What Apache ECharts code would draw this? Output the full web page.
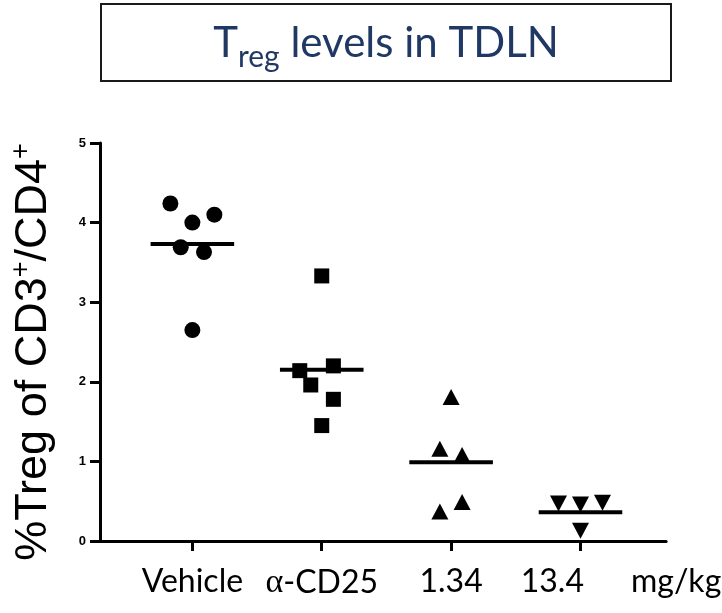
<!DOCTYPE html>
<html>
<head>
<meta charset="utf-8">
<script src="https://cdn.jsdelivr.net/npm/echarts@6/dist/echarts.min.js"></script>
<style>
  html, body { margin: 0; padding: 0; background: #fff; }
  #main { width: 722px; height: 613px; }
</style>
</head>
<body>
<div id="main"></div>
<script>
// groups on the x axis (positions 1..4)
var groupLabels = ['Vehicle', 'α-CD25', '1.34', '13.4'];
var doseUnit = 'mg/kg';
var yTicks = [0, 1, 2, 3, 4, 5];

// individual animals, % Treg of CD3+/CD4+
var vehicleVals = [4.24, 4.00, 4.10, 3.69, 3.63, 2.65];
var vehicleJitter = [-0.17, 0, 0.17, -0.09, 0.09, 0];
var cd25Vals = [3.33, 2.14, 2.20, 1.96, 1.78, 1.45];
var cd25Jitter = [0, -0.17, 0.09, -0.085, 0.09, 0];
var lowDoseVals = [1.81, 1.16, 1.08, 0.49, 0.37];
var lowDoseJitter = [0, -0.087, 0.085, 0.085, -0.087];
var highDoseVals = [0.47, 0.46, 0.48, 0.13];
var highDoseJitter = [-0.17, 0, 0.17, 0];

// group means (horizontal bars)
var groupMeans = [3.73, 2.15, 0.99, 0.36];

function pts(pos, vals, jit) {
    var out = [];
    for (var i = 0; i < vals.length; i++) {
        out.push([pos + jit[i], vals[i]]);
    }
    return out;
}

var myChart = echarts.init(document.getElementById('main'));

var dotStyle = { color: '#000', opacity: 1 };

var option = {
    animation: false,
    graphic: [
        {
            type: 'rect',
            shape: { x: 101, y: 4, width: 570, height: 77 },
            style: { fill: 'none', stroke: '#1a1a1a', lineWidth: 2 }
        },
        {
            type: 'text',
            x: 386,
            y: 43,
            style: {
                text: '{t|T}{s|reg}{t| levels in TDLN}',
                align: 'center',
                verticalAlign: 'middle',
                rich: {
                    t: { fontFamily: 'Lato', fontSize: 42, lineHeight: 50, fill: '#203864' },
                    s: { fontFamily: 'Lato', fontSize: 30, lineHeight: 30, padding: [28, 0, 0, 0], fill: '#203864' }
                }
            }
        }
    ],
    grid: {
        left: 85,
        right: 55,
        top: 143,
        bottom: 72
    },
    xAxis: {
        type: 'value',
        min: 0.286,
        max: 4.662,
        splitLine: { show: false },
        axisLine: { show: true, lineStyle: { color: '#000', width: 3 } },
        axisTick: {
            show: true,
            customValues: [1, 2, 3, 4],
            length: 10,
            lineStyle: { color: '#000', width: 3 }
        },
        axisLabel: {
            customValues: [1, 2, 3, 4],
            margin: 25,
            formatter: function (v) {
                var i = Math.round(v) - 1;
                var lab = groupLabels[i];
                if (i === groupLabels.length - 1) {
                    return '{a|' + lab + '}{u|' + doseUnit + '}';
                }
                if (lab.charAt(0) === 'α') {
                    return '{g|α}' + lab.slice(1);
                }
                return lab;
            },
            fontFamily: 'Lato',
            fontSize: 32,
            color: '#000',
            rich: {
                a: { fontFamily: 'Lato', fontSize: 32, color: '#000', padding: [0, 0, 0, 81] },
                u: { fontFamily: 'Lato', fontSize: 32, color: '#000', padding: [0, 0, 0, 47] },
                g: { fontFamily: 'Liberation Serif', fontSize: 34, color: '#000' }
            }
        }
    },
    yAxis: {
        type: 'value',
        min: 0,
        max: 5,
        interval: 1,
        splitLine: { show: false },
        axisLine: { show: true, lineStyle: { color: '#000', width: 3 } },
        axisTick: { show: true, length: 10, lineStyle: { color: '#000', width: 3 } },
        axisLabel: {
            margin: 14,
            fontFamily: 'Liberation Sans',
            fontWeight: 'bold',
            fontSize: 13,
            color: '#000',
            formatter: function (v) { return yTicks.indexOf(v) >= 0 ? String(v) : ''; }
        },
        name: '{m|%Treg of CD3}{p|+}{m|/CD4}{p|+}',
        nameLocation: 'middle',
        nameGap: 40,
        nameTextStyle: {
            padding: [0, 20, 0, 0],
            rich: {
                m: { fontFamily: 'Liberation Sans', fontSize: 45, lineHeight: 52, color: '#000' },
                p: { fontFamily: 'Liberation Sans', fontSize: 27, lineHeight: 27, padding: [0, 0, 25, 0], color: '#000' }
            }
        }
    },
    series: [
        {
            name: 'Vehicle', type: 'scatter', symbol: 'circle', symbolSize: 16,
            itemStyle: dotStyle,
            data: pts(1, vehicleVals, vehicleJitter)
        },
        {
            name: 'α-CD25', type: 'scatter', symbol: 'rect', symbolSize: 15,
            itemStyle: dotStyle,
            data: pts(2, cd25Vals, cd25Jitter)
        },
        {
            name: '1.34', type: 'scatter', symbol: 'triangle', symbolSize: [17, 16],
            itemStyle: dotStyle,
            data: pts(3, lowDoseVals, lowDoseJitter)
        },
        {
            name: '13.4', type: 'scatter', symbol: 'triangle', symbolRotate: 180, symbolSize: [17, 16],
            itemStyle: dotStyle,
            data: pts(4, highDoseVals, highDoseJitter)
        },
        {
            name: 'mean', type: 'custom',
            z: 5,
            data: groupMeans.map(function (m, i) { return [i + 1, m]; }),
            renderItem: function (params, api) {
                var x = api.value(0), y = api.value(1);
                var a = api.coord([x - 0.323, y]);
                var b = api.coord([x + 0.323, y]);
                return {
                    type: 'line',
                    shape: { x1: a[0], y1: a[1], x2: b[0], y2: b[1] },
                    style: { stroke: '#000', lineWidth: 4 }
                };
            }
        }
    ]
};

myChart.setOption(option);
</script>
</body>
</html>
